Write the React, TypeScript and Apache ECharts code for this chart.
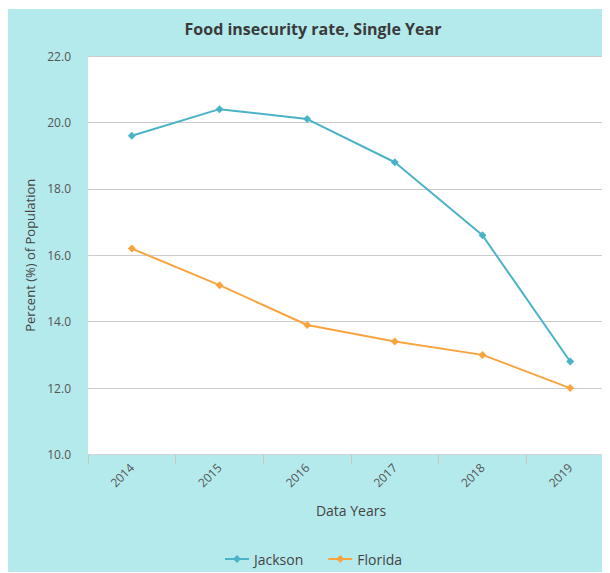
import React, { useEffect, useRef } from "react";
import * as echarts from "echarts";

const years = ["2014", "2015", "2016", "2017", "2018", "2019"];
const jackson = [19.6, 20.4, 20.1, 18.8, 16.6, 12.8];
const florida = [16.2, 15.1, 13.9, 13.4, 13.0, 12.0];
const seriesNames = ["Jackson", "Florida"];

const FONT = "'Open Sans', 'Noto Sans', sans-serif";

export default function App() {
  const ref = useRef<HTMLDivElement>(null);

  useEffect(() => {
    document.body.style.overflow = "hidden";
    if (!ref.current) return;
    const chart = echarts.init(ref.current, undefined, { renderer: "svg" });
    chart.setOption({
      animation: false,
      backgroundColor: "#b4eaec",
      textStyle: { fontFamily: FONT },
      title: {
        text: "Food insecurity rate, Single Year",
        left: "center",
        top: 7,
        textStyle: { fontSize: 16, fontWeight: "bold", color: "#3a3a3a", fontFamily: FONT },
      },
      legend: {
        bottom: 2,
        left: "center",
        itemWidth: 24,
        itemHeight: 10,
        itemGap: 24,
        textStyle: { fontSize: 14, color: "#444", fontFamily: FONT },
        data: seriesNames,
      },
      grid: {
        left: 80,
        right: 4,
        top: 47,
        bottom: 118.5,
        show: true,
        backgroundColor: "#ffffff",
        borderWidth: 0,
      },
      xAxis: {
        type: "category",
        data: years,
        boundaryGap: true,
        name: "Data Years",
        nameLocation: "middle",
        nameGap: 49,
        nameTextStyle: { fontSize: 14, color: "#444", fontFamily: FONT },
        axisLine: { lineStyle: { color: "#d4d4d8", width: 1 } },
        axisTick: { show: true, length: 10, lineStyle: { color: "#c8c8c8" } },
        axisLabel: { rotate: 45, fontSize: 12, color: "#555", margin: 11, fontFamily: FONT },
        splitLine: { show: false },
      },
      yAxis: {
        type: "value",
        min: 10,
        max: 22,
        interval: 2,
        name: "Percent (%) of Population",
        nameLocation: "middle",
        nameGap: 48,
        nameTextStyle: { fontSize: 13, color: "#444", fontFamily: FONT },
        axisLine: { show: false },
        axisTick: { show: false },
        axisLabel: {
          fontSize: 12,
          color: "#555",
          margin: 17,
          fontFamily: FONT,
          formatter: (v: number) => v.toFixed(1),
        },
        splitLine: { lineStyle: { color: "#cccccc", width: 1 } },
      },
      series: [
        {
          name: seriesNames[0],
          type: "line",
          data: jackson,
          symbol: "diamond",
          symbolSize: 8,
          color: "#4ab3c8",
          lineStyle: { width: 2 },
        },
        {
          name: seriesNames[1],
          type: "line",
          data: florida,
          symbol: "diamond",
          symbolSize: 8,
          color: "#f9a43e",
          lineStyle: { width: 2 },
        },
      ],
    });
    return () => chart.dispose();
  }, []);

  return (
    <div
      ref={ref}
      style={{ width: 610, height: 564, position: "relative", top: 1 }}
    />
  );
}
